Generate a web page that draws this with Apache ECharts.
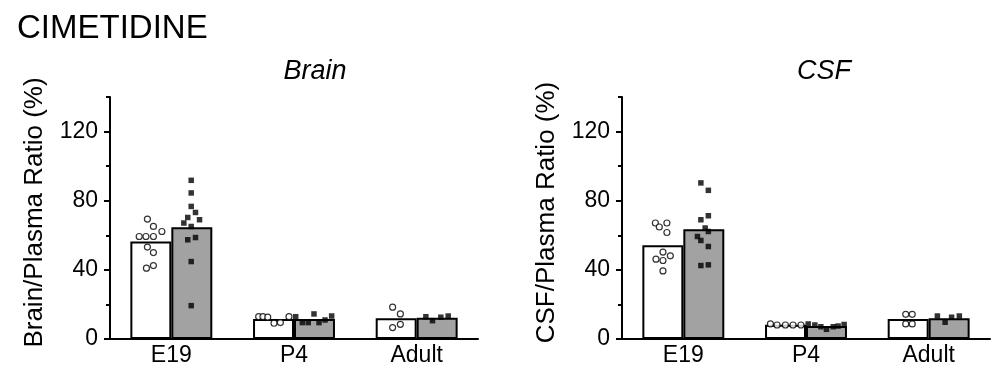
<!DOCTYPE html>
<html>
<head>
<meta charset="utf-8">
<script src="https://cdn.jsdelivr.net/npm/echarts@6/dist/echarts.min.js"></script>
<style>
html,body{margin:0;padding:0;background:#fff;}
#chart{width:1000px;height:374px;}
</style>
</head>
<body>
<div id="chart"></div>
<script>
// ---- data ----
const categories = ['E19', 'P4', 'Adult'];
const yTicks = [0, 40, 80, 120];
const yMinorTicks = [20, 60, 100, 140];

// bar means (%)
const brainCtrlMean = [56.4, 11.6, 12.0];
const brainTreatMean = [64.7, 11.5, 12.3];
const csfCtrlMean = [54.2, 8.2, 11.5];
const csfTreatMean = [63.5, 7.5, 12.0];

// individual points: [groupIndex, jitter (category units, from bar centre), value]
const brainCtrlPoints = [
  [0, -0.028, 69.4], [0, 0.021, 65.1], [0, 0.090, 62.2], [0, -0.095, 59.3], [0, -0.040, 59.3],
  [0, 0.021, 59.3], [0, -0.028, 53.2], [0, 0.021, 50.0], [0, -0.036, 41.0], [0, 0.021, 42.5],
  [1, -0.121, 12.9], [1, -0.086, 12.9], [1, -0.047, 12.6], [1, 0.004, 9.1], [1, 0.056, 9.5], [1, 0.126, 12.9],
  [2, -0.029, 18.4], [2, 0.034, 14.5], [2, -0.029, 6.6], [2, 0.034, 8.5]
];
const brainTreatPoints = [
  [0, -0.005, 91.8], [0, -0.005, 84.5], [0, -0.005, 76.7], [0, 0.030, 73.2], [0, -0.033, 70.3],
  [0, 0.063, 69.0], [0, -0.065, 67.1], [0, -0.005, 65.1], [0, -0.033, 57.4], [0, 0.030, 58.7],
  [0, -0.005, 44.8], [0, -0.005, 19.3],
  [1, -0.153, 12.9], [1, -0.099, 9.5], [1, -0.051, 9.5], [1, -0.004, 14.5], [1, 0.037, 9.5], [1, 0.086, 11.0], [1, 0.140, 13.3],
  [2, -0.092, 12.9], [2, -0.038, 10.6], [2, 0.030, 12.6], [2, 0.090, 13.3]
];
const csfCtrlPoints = [
  [0, -0.061, 67.1], [0, -0.029, 64.8], [0, 0.033, 67.1], [0, 0.033, 61.6], [0, 0.001, 50.3],
  [0, 0.061, 48.1], [0, -0.056, 46.2], [0, 0.001, 45.4], [0, 0.001, 39.4],
  [1, -0.123, 8.7], [1, -0.069, 8.1], [1, -0.001, 8.1], [1, 0.061, 8.1], [1, 0.126, 8.1],
  [2, -0.020, 14.3], [2, 0.033, 14.3], [2, -0.020, 8.7], [2, 0.033, 8.7]
];
const csfTreatPoints = [
  [0, -0.024, 90.3], [0, 0.037, 86.0], [0, 0.037, 71.3], [0, -0.024, 69.0], [0, 0.011, 64.2],
  [0, 0.037, 62.2], [0, -0.052, 59.3], [0, -0.024, 57.0], [0, 0.037, 53.5], [0, -0.024, 42.5], [0, 0.037, 42.9],
  [1, -0.149, 8.7], [1, -0.095, 8.1], [1, -0.046, 7.1], [1, 0.000, 5.6], [1, 0.055, 7.1], [1, 0.095, 7.5], [1, 0.144, 8.4],
  [2, -0.096, 13.3], [2, -0.033, 9.7], [2, 0.020, 12.6], [2, 0.083, 13.3]
];

// ---- chart ----
const FONT = 'Liberation Sans, Arial, sans-serif';
const BAR_SHARE = 0.334;            // bar width as share of category band
const HALF = BAR_SHARE / 2;

const chart = echarts.init(document.getElementById('chart'), null, {renderer: 'canvas'});

const grids = [
  {left: 110, top: 97, width: 368, height: 242},
  {left: 622, top: 97, width: 368, height: 242}
];

const xAxes = [], yAxes = [], series = [];
const panels = [
  {name: 'Brain/Plasma Ratio (%)', ctrl: brainCtrlMean, treat: brainTreatMean, cp: brainCtrlPoints, tp: brainTreatPoints},
  {name: 'CSF/Plasma Ratio (%)', ctrl: csfCtrlMean, treat: csfTreatMean, cp: csfCtrlPoints, tp: csfTreatPoints}
];

panels.forEach((p, gi) => {
  xAxes.push({
    type: 'category', gridIndex: gi, data: categories,
    axisLine: {onZero: false, lineStyle: {color: '#000', width: 2}},
    axisTick: {show: false},
    axisLabel: {color: '#000', fontSize: 23, fontFamily: FONT, margin: 5},
    splitLine: {show: false}
  });
  xAxes.push({
    type: 'value', gridIndex: gi, min: -0.5, max: 2.5, show: false,
    axisLine: {onZero: false}, splitLine: {show: false}
  });
  yAxes.push({
    type: 'value', gridIndex: gi, min: 0, max: 140, interval: 40, position: 'left',
    name: p.name, nameLocation: 'middle', nameGap: 62, nameRotate: 90,
    nameTextStyle: {color: '#000', fontSize: 26, fontFamily: FONT, padding: [0, 0, 0, 11]},
    axisLine: {show: true, onZero: false, lineStyle: {color: '#000', width: 2}},
    axisTick: {show: true, length: 6, lineStyle: {color: '#000', width: 2}, customValues: yTicks},
    axisLabel: {color: '#000', fontSize: 23, fontFamily: FONT, margin: 12, customValues: yTicks},
    splitLine: {show: false}
  });
  yAxes.push({
    type: 'value', gridIndex: gi, min: 0, max: 140, position: 'left',
    axisLine: {show: false, onZero: false},
    axisTick: {show: true, length: 4, lineStyle: {color: '#000', width: 2}, customValues: yMinorTicks},
    axisLabel: {show: false},
    splitLine: {show: false}
  });
  const xCat = gi * 2, xVal = gi * 2 + 1, yMain = gi * 2;
  series.push({
    type: 'bar', xAxisIndex: xCat, yAxisIndex: yMain, data: p.ctrl,
    barWidth: (BAR_SHARE * 100) + '%', barGap: '0%',
    itemStyle: {color: '#ffffff', borderColor: '#000', borderWidth: 2}, z: 2, silent: true
  });
  series.push({
    type: 'bar', xAxisIndex: xCat, yAxisIndex: yMain, data: p.treat,
    barWidth: (BAR_SHARE * 100) + '%', barGap: '0%',
    itemStyle: {color: '#a2a2a2', borderColor: '#000', borderWidth: 2}, z: 2, silent: true
  });
  series.push({
    type: 'scatter', xAxisIndex: xVal, yAxisIndex: yMain,
    data: p.cp.map(d => [d[0] - HALF + d[1], d[2]]),
    symbol: 'circle', symbolSize: 6,
    itemStyle: {color: '#fff', borderColor: '#000', borderWidth: 1.2}, z: 5, silent: true
  });
  series.push({
    type: 'scatter', xAxisIndex: xVal, yAxisIndex: yMain,
    data: p.tp.map(d => [d[0] + HALF + d[1], d[2]]),
    symbol: 'rect', symbolSize: 5.5,
    itemStyle: {color: '#000'}, z: 5, silent: true
  });
});

chart.setOption({
  animation: false,
  backgroundColor: '#fff',
  grid: grids,
  xAxis: xAxes,
  yAxis: yAxes,
  series: series,
  graphic: [
    {type: 'text', x: 17, y: 29, style: {text: 'CIMETIDINE', font: '33px ' + FONT, fill: '#000', textAlign: 'left', textVerticalAlign: 'middle'}},
    {type: 'text', x: 315, y: 71, style: {text: 'Brain', font: 'italic 27px ' + FONT, fill: '#000', textAlign: 'center', textVerticalAlign: 'middle'}},
    {type: 'text', x: 824, y: 71, style: {text: 'CSF', font: 'italic 27px ' + FONT, fill: '#000', textAlign: 'center', textVerticalAlign: 'middle'}}
  ]
});
</script>
</body>
</html>
